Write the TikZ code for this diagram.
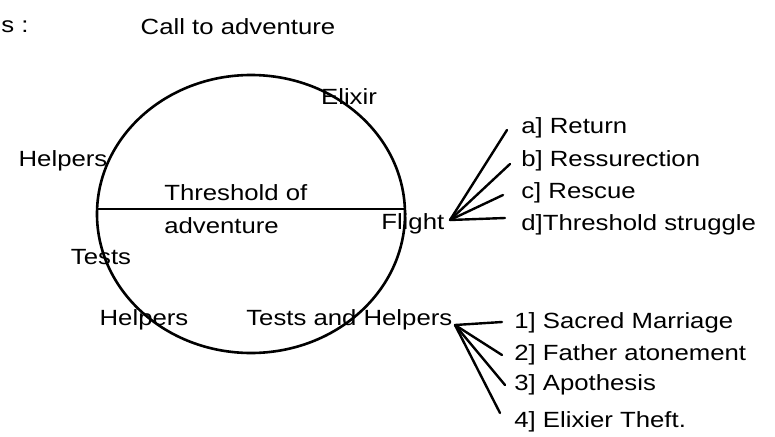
\documentclass[tikz,border=0pt]{standalone}
\usepackage{fontspec}
\setmainfont{Liberation Sans}[FakeStretch=1.17]

\tikzset{
  lbl/.style={inner sep=0pt, font=\fontsize{22}{25}\selectfont},
  ray/.style={line width=2.4pt, line cap=round}
}

\begin{document}
\begin{tikzpicture}[x=1pt, y=-1pt, line width=2.6pt]
    \useasboundingbox (0,0) rectangle (775,436);

    % the cycle
    \draw (251,214) ellipse [x radius=154, y radius=139];
    \coordinate (thl) at (97,209);
    \coordinate (thr) at (405,209);
    \draw (thl) -- (thr);

    \node[lbl, anchor=west] (cut) at (0,27) {s :};
    \node[lbl] (call) at (238,27) {Call to adventure};
    \node[lbl] (elixir) at (349,97) {Elixir};
    \node[lbl] (helpa) at (63,161) {Helpers};
    \node[lbl, anchor=west] (thres) at (163,193) {Threshold of};
    \node[lbl, anchor=west] (adv) at (163,226) {adventure};
    \node[lbl, anchor=west] (flight) at (380,224) {Flight};
    \node[lbl] (tests) at (101,257) {Tests};
    \node[lbl] (helpb) at (144,320) {Helpers};
    \node[lbl, anchor=west] (tah) at (245,320) {Tests and Helpers};

    % flight branch
    \coordinate (fk) at (450,220);
    \coordinate (fa) at (507,130);
    \coordinate (fb) at (510,164);
    \coordinate (fc) at (503,195);
    \coordinate (fd) at (505,218);
    \foreach \e in {fa,fb,fc,fd} \draw[ray] (fk) -- (\e);
    \node[lbl, anchor=west] (ret) at (520,128) {a] Return};
    \node[lbl, anchor=west] (res) at (520,161) {b] Ressurection};
    \node[lbl, anchor=west] (rsc) at (520,193) {c] Rescue};
    \node[lbl, anchor=west] (tst) at (520,225) {d]Threshold struggle};

    % tests and helpers branch
    \coordinate (hk) at (455,325);
    \coordinate (h1) at (502,322);
    \coordinate (h2) at (502,355);
    \coordinate (h3) at (505,385);
    \coordinate (h4) at (500,413);
    \foreach \e in {h1,h2,h3,h4} \draw[ray] (hk) -- (\e);
    \node[lbl, anchor=west] (mar) at (513,323) {1] Sacred Marriage};
    \node[lbl, anchor=west] (fat) at (513,355) {2] Father atonement};
    \node[lbl, anchor=west] (apo) at (513,385) {3] Apothesis};
    \node[lbl, anchor=west] (thf) at (513,422) {4] Elixier Theft.};
\end{tikzpicture}
\end{document}
